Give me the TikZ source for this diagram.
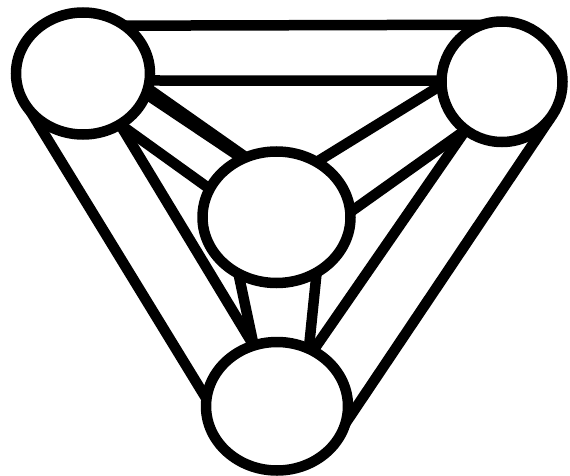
\documentclass[tikz,border=0pt]{standalone}
\usetikzlibrary{shapes.geometric,backgrounds}
\begin{document}
\begin{tikzpicture}[x=1pt,y=-1pt,
  vertex/.style={ellipse,draw=black,fill=white,line width=10.5pt,inner sep=0pt,outer sep=0pt},
  link/.style={line width=10.5pt,black}]
\useasboundingbox (0,0) rectangle (570,476);
\node[vertex,minimum width=134pt,minimum height=122pt] (A) at (83,73.5) {};
\node[vertex,minimum width=121pt,minimum height=120.5pt] (B) at (502,81.75) {};
\node[vertex,minimum width=148pt,minimum height=131.5pt] (C) at (276.5,217.25) {};
\node[vertex,minimum width=142pt,minimum height=128.5pt] (D) at (277,406.25) {};
\begin{scope}[on background layer]
\draw[link] (A.49.3) -- (B.109.95);
\draw[link] (A.-6.9) -- (B.179.5);
\draw[link] (A.-13) -- (C.117.2);
\draw[link] (A.-18.3) -- (C.120.8);
\draw[link] (A.-54.4) -- (C.157.7);
\draw[link] (A.-144) -- (D.174.2);
\draw[link] (A.-54.9) -- (D.111.5);
\draw[link] (C.-124.4) -- (D.111.5);
\draw[link] (C.-54.6) -- (D.61.6);
\draw[link] (C.54.9) -- (B.183.3);
\draw[link] (C.4.1) -- (B.-127.7);
\draw[link] (B.-127.6) -- (D.57.3);
\draw[link] (B.-36) -- (D.-14.8);
\end{scope}
\end{tikzpicture}
\end{document}
